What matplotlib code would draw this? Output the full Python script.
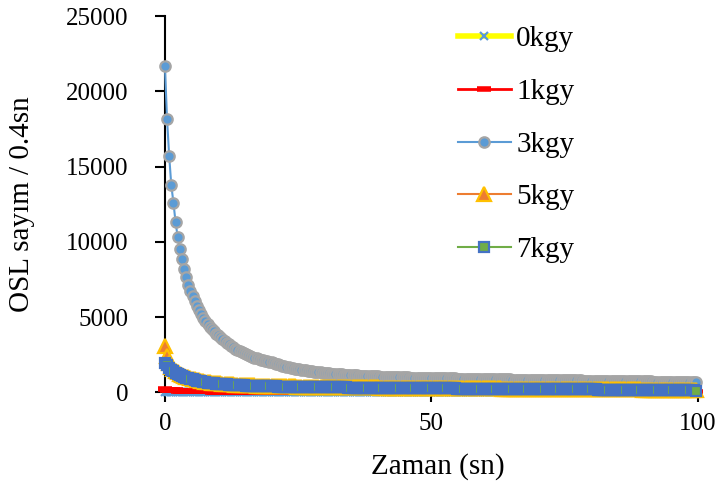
import numpy as np
import matplotlib
matplotlib.use("Agg")
import matplotlib.pyplot as plt

plt.rcParams['font.family'] = ['Liberation Serif', 'DejaVu Serif']

# ---------------- data (OSL counts per 0.4 s channel) ----------------
labels = ["0kgy", "1kgy", "3kgy", "5kgy", "7kgy"]
channel_width = 0.4  # s per channel

osl_0kgy = [
    40, 32, 28, 25, 22, 20, 19, 18, 18, 17, 17, 16, 16, 16, 15, 15, 15, 15, 14, 14, 14, 14, 14, 13, 13,
    13, 13, 13, 13, 12, 12, 12, 12, 12, 12, 12, 12, 12, 11, 11, 11, 11, 11, 11, 11, 11, 11, 11, 11, 11,
    11, 11, 11, 10, 10, 10, 10, 10, 10, 10, 10, 10, 10, 10, 10, 10, 10, 10, 10, 10, 10, 10, 10, 10, 10,
    10, 10, 10, 10, 10, 10, 10, 10, 10, 10, 10, 10, 10, 10, 10, 10, 10, 10, 10, 10, 10, 10, 10, 10, 10,
    10, 10, 10, 10, 10, 10, 10, 10, 10, 10, 10, 10, 10, 10, 10, 10, 10, 10, 10, 10, 10, 10, 10, 10, 10,
    10, 10, 10, 10, 10, 10, 10, 10, 10, 10, 10, 10, 10, 10, 10, 10, 10, 10, 10, 10, 10, 10, 10, 10, 10,
    10, 10, 10, 10, 10, 10, 10, 10, 10, 10, 10, 10, 10, 10, 10, 10, 10, 10, 10, 10, 10, 10, 10, 10, 10,
    10, 10, 10, 10, 10, 10, 10, 10, 10, 10, 10, 10, 10, 10, 10, 10, 10, 10, 10, 10, 10, 10, 10, 10, 10,
    10, 10, 10, 10, 10, 10, 10, 10, 10, 10, 10, 10, 10, 10, 10, 10, 10, 10, 10, 10, 10, 10, 10, 10, 10,
    10, 10, 10, 10, 10, 10, 10, 10, 10, 10, 10, 10, 10, 10, 10, 10, 10, 10, 10, 10, 10, 10, 10, 10, 10,
]

osl_1kgy = [
    210, 185, 165, 150, 138, 127, 118, 110, 103, 97, 91, 86, 81, 77, 73, 69, 66, 63, 60, 57, 55, 53, 51, 49, 47,
    46, 45, 44, 43, 42, 41, 40, 39, 38, 38, 37, 36, 36, 35, 35, 34, 34, 33, 33, 32, 32, 32, 31, 31, 31,
    30, 30, 30, 30, 29, 29, 29, 29, 28, 28, 28, 28, 28, 27, 27, 27, 27, 27, 26, 26, 26, 26, 26, 26, 25,
    25, 25, 25, 25, 25, 25, 24, 24, 24, 24, 24, 24, 24, 24, 23, 23, 23, 23, 23, 23, 23, 23, 23, 23, 22,
    22, 22, 22, 22, 22, 22, 22, 22, 22, 22, 22, 22, 21, 21, 21, 21, 21, 21, 21, 21, 21, 21, 21, 21, 21,
    21, 21, 21, 21, 21, 20, 20, 20, 20, 20, 20, 20, 20, 20, 20, 20, 20, 20, 20, 20, 20, 20, 20, 20, 20,
    20, 20, 20, 20, 20, 20, 20, 20, 20, 20, 20, 20, 20, 20, 20, 20, 20, 20, 20, 20, 20, 20, 20, 20, 20,
    20, 20, 20, 20, 20, 20, 20, 20, 20, 20, 20, 20, 20, 20, 20, 20, 20, 20, 20, 20, 20, 20, 20, 20, 20,
    20, 20, 20, 20, 20, 20, 20, 20, 20, 20, 20, 20, 20, 20, 20, 20, 20, 20, 20, 20, 20, 20, 20, 20, 20,
    20, 20, 20, 20, 20, 20, 20, 20, 20, 20, 20, 20, 20, 20, 20, 20, 20, 20, 20, 20, 20, 20, 20, 20, 20,
]

osl_3kgy = [
    21700, 18150, 15700, 13750, 12600, 11300, 10300, 9500, 8850, 8200, 7650, 7150, 6750, 6400, 6050, 5750, 5450, 5200, 4950, 4750, 4550, 4350, 4200, 4050, 3900,
    3780, 3640, 3510, 3390, 3280, 3180, 3080, 2990, 2900, 2820, 2740, 2670, 2600, 2540, 2480, 2420, 2370, 2310, 2260, 2220, 2170, 2130, 2090, 2050, 2020,
    1980, 1930, 1890, 1850, 1810, 1770, 1740, 1700, 1670, 1640, 1610, 1580, 1550, 1520, 1500, 1480, 1460, 1440, 1420, 1400, 1380, 1360, 1340, 1320, 1300,
    1285, 1270, 1256, 1243, 1230, 1218, 1206, 1195, 1184, 1174, 1164, 1155, 1146, 1137, 1129, 1121, 1113, 1105, 1098, 1091, 1084, 1077, 1071, 1065, 1059,
    1053, 1047, 1041, 1036, 1031, 1026, 1021, 1016, 1011, 1006, 1002, 998, 994, 990, 986, 982, 978, 974, 971, 968, 965, 962, 959, 956, 953,
    950, 947, 944, 941, 938, 935, 932, 929, 926, 923, 920, 917, 914, 911, 908, 905, 902, 899, 896, 893, 890, 887, 884, 881, 878,
    875, 872, 870, 868, 866, 864, 862, 860, 858, 856, 854, 852, 850, 848, 846, 844, 842, 840, 838, 836, 834, 832, 830, 828, 826,
    824, 822, 820, 818, 816, 814, 812, 810, 808, 806, 804, 802, 800, 798, 796, 794, 792, 790, 788, 786, 784, 782, 780, 778, 776,
    774, 772, 770, 768, 766, 764, 762, 760, 758, 756, 754, 752, 750, 748, 746, 744, 742, 740, 738, 736, 734, 732, 730, 728, 726,
    724, 722, 720, 718, 716, 714, 712, 710, 708, 706, 704, 702, 700, 698, 696, 694, 692, 690, 688, 686, 684, 682, 680, 678, 676,
]

osl_5kgy = [
    3050, 2400, 1950, 1700, 1540, 1420, 1320, 1230, 1160, 1095, 1040, 985, 940, 898, 860, 825, 793, 763, 736, 710, 688, 667, 648, 630, 614,
    600, 586, 573, 562, 551, 540, 530, 521, 512, 504, 496, 489, 482, 475, 469, 463, 457, 452, 447, 442, 437, 432, 428, 424, 420,
    416, 412, 409, 406, 403, 400, 397, 394, 392, 389, 387, 385, 383, 381, 379, 377, 375, 373, 371, 369, 367, 365, 363, 361, 359,
    357, 355, 353, 352, 350, 348, 347, 345, 343, 342, 340, 338, 337, 335, 334, 332, 331, 329, 328, 326, 325, 323, 322, 320, 319,
    318, 316, 315, 314, 312, 311, 310, 308, 307, 306, 304, 303, 302, 301, 299, 298, 297, 296, 294, 293, 292, 291, 290, 289, 287,
    286, 285, 284, 283, 281, 280, 279, 278, 277, 276, 275, 274, 272, 271, 270, 269, 268, 267, 266, 265, 264, 263, 262, 261, 260,
    259, 258, 257, 256, 255, 254, 253, 252, 251, 250, 249, 248, 247, 246, 245, 244, 243, 242, 241, 240, 239, 238, 237, 236, 235,
    234, 233, 232, 231, 230, 229, 228, 227, 226, 225, 224, 223, 222, 221, 220, 219, 218, 217, 216, 215, 214, 213, 212, 211, 210,
    209, 208, 207, 206, 205, 204, 203, 202, 201, 200, 199, 198, 197, 196, 195, 194, 193, 192, 191, 190, 189, 188, 187, 186, 185,
    184, 183, 182, 181, 180, 179, 178, 177, 176, 175, 174, 173, 172, 171, 170, 169, 168, 167, 166, 165, 164, 163, 162, 161, 160,
]

osl_7kgy = [
    1950, 1780, 1630, 1500, 1390, 1300, 1220, 1150, 1090, 1030, 980, 930, 890, 850, 815, 780, 750, 720, 695, 670, 650, 630, 612, 595, 580,
    566, 553, 541, 530, 520, 510, 501, 492, 484, 476, 469, 462, 455, 449, 443, 437, 432, 427, 422, 417, 412, 408, 404, 400, 396,
    392, 389, 386, 383, 380, 377, 374, 372, 370, 368, 366, 364, 362, 360, 358, 356, 354, 352, 350, 348, 346, 344, 342, 340, 338,
    336, 334, 332, 331, 329, 327, 326, 324, 322, 321, 319, 317, 316, 314, 313, 311, 310, 308, 307, 305, 304, 302, 301, 299, 298,
    297, 295, 294, 293, 291, 290, 289, 287, 286, 285, 283, 282, 281, 280, 278, 277, 276, 275, 273, 272, 271, 270, 269, 268, 266,
    265, 264, 263, 262, 260, 259, 258, 257, 256, 255, 254, 253, 251, 250, 249, 248, 247, 246, 245, 244, 243, 242, 241, 240, 239,
    238, 237, 236, 235, 234, 233, 232, 231, 230, 229, 228, 227, 226, 225, 224, 223, 222, 221, 220, 219, 218, 217, 216, 215, 214,
    213, 212, 211, 210, 209, 208, 207, 206, 205, 204, 203, 202, 201, 200, 199, 198, 197, 196, 195, 194, 193, 192, 191, 190, 189,
    188, 187, 186, 185, 184, 183, 182, 181, 180, 179, 178, 177, 176, 175, 174, 173, 172, 171, 170, 169, 168, 167, 166, 165, 164,
    163, 162, 161, 160, 159, 158, 157, 156, 155, 154, 153, 152, 151, 150, 149, 148, 147, 146, 145, 144, 143, 142, 141, 140, 110,
]

x_ticks = [0, 50, 100]
y_ticks = [0, 5000, 10000, 15000, 20000, 25000]

# ---------------- styles ----------------
styles = [
    dict(color='#FFFF00', lw=4.0, marker='x', ms=6, mec='#5B9BD5', mfc='#5B9BD5', mew=1.6),
    dict(color='#FF0000', lw=2.0, marker='_', ms=10, mec='#FF0000', mfc='#FF0000', mew=4),
    dict(color='#5B9BD5', lw=1.5, marker='o', ms=7.5, mec='#A5A5A5', mfc='#5B9BD5', mew=1.6),
    dict(color='#ED7D31', lw=1.5, marker='^', ms=10, mec='#FFC000', mfc='#ED7D31', mew=1.6),
    dict(color='#70AD47', lw=1.5, marker='s', ms=7, mec='#4472C4', mfc='#70AD47', mew=1.6),
]
series = [osl_0kgy, osl_1kgy, osl_3kgy, osl_5kgy, osl_7kgy]

fig = plt.figure(figsize=(7.17, 4.94), dpi=100)
ax = fig.add_axes([0.230, 0.2059, 0.7435, 0.7617])

for lab, vals, st in zip(labels, series, styles):
    t = np.arange(len(vals)) * channel_width
    ax.plot(t, vals, label=lab, clip_on=False, zorder=3, **st)

ax.set_xlim(0, 100)
ax.set_ylim(0, 25000)
ax.set_xticks(x_ticks)
ax.set_yticks(y_ticks)
for s in ['top', 'right']:
    ax.spines[s].set_visible(False)
ax.spines['left'].set_linewidth(1.5)
ax.spines['bottom'].set_linewidth(1.0)
ax.tick_params(axis='both', direction='out', length=7, width=1.5, labelsize=18)
ax.tick_params(axis='y', pad=19)
ax.tick_params(axis='x', pad=8)

ax.set_xlabel('Zaman (sn)', fontsize=21)
ax.set_ylabel('OSL sayım / 0.4sn', fontsize=21)
ax.xaxis.label.set_va('center')
ax.yaxis.label.set_va('center')
ax.xaxis.set_label_coords((438 - 165) / 533, (392.3 - 467) / 376.3)
ax.yaxis.set_label_coords((22 - 165) / 533, 0.5)

ax.legend(loc='upper left', bbox_to_anchor=(458 / 717, 1 - 26 / 494), bbox_transform=fig.transFigure,
          frameon=False, fontsize=21, handlelength=1.8, handletextpad=0.2,
          labelspacing=0.9, borderaxespad=0, borderpad=0)

fig.savefig('out.png', dpi=100)
